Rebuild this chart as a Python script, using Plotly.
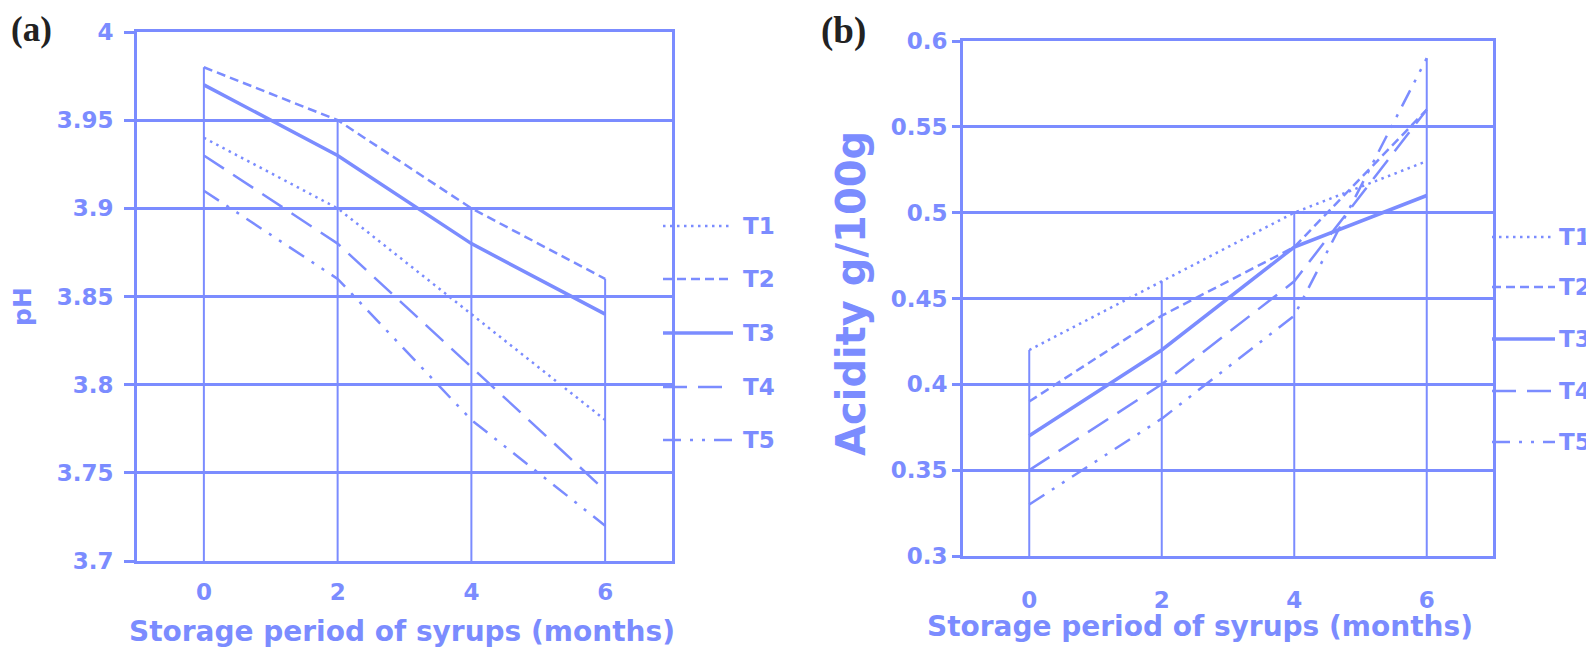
import plotly.graph_objects as go

months = [0, 2, 4, 6]
series_names = ["T1", "T2", "T3", "T4", "T5"]

ph_T1 = [3.94, 3.90, 3.84, 3.78]
ph_T2 = [3.98, 3.95, 3.90, 3.86]
ph_T3 = [3.97, 3.93, 3.88, 3.84]
ph_T4 = [3.93, 3.88, 3.81, 3.74]
ph_T5 = [3.91, 3.86, 3.78, 3.72]

acid_T1 = [0.42, 0.46, 0.50, 0.53]
acid_T2 = [0.39, 0.44, 0.48, 0.56]
acid_T3 = [0.37, 0.42, 0.48, 0.51]
acid_T4 = [0.35, 0.40, 0.46, 0.56]
acid_T5 = [0.33, 0.38, 0.44, 0.59]

ph_ticks = [3.7, 3.75, 3.8, 3.85, 3.9, 3.95, 4.0]
ph_ticktext = ["3.7", "3.75", "3.8", "3.85", "3.9", "3.95", "4"]
acid_ticks = [0.3, 0.35, 0.4, 0.45, 0.5, 0.55, 0.6]
acid_ticktext = ["0.3", "0.35", "0.4", "0.45", "0.5", "0.55", "0.6"]
x_ticks = [0, 2, 4, 6]

BLUE = "#7b8cff"
FONT = "DejaVu Sans"
OFF = 8                      # page body margin
W, H = 1594 - OFF, 649 - OFF

styles = {
    "T1": dict(dash="2.5px,4.5px", width=2.5),
    "T2": dict(dash="9px,5px", width=2.5),
    "T3": dict(dash="solid", width=3.5),
    "T4": dict(dash="24px,11px", width=2.5),
    "T5": dict(dash="18px,9px,3px,9px,3px,9px", width=2.5),
}

fig = go.Figure()

def add_panel(data, xa, ya, ymin):
    # drop lines from axis floor to the series maximum at each month
    dx, dy = [], []
    for i, m in enumerate(months):
        top = max(s[i] for s in data)
        dx += [m, m, None]
        dy += [ymin, top, None]
    fig.add_trace(go.Scatter(x=dx, y=dy, mode="lines", xaxis=xa, yaxis=ya,
                             line=dict(color=BLUE, width=2), showlegend=False,
                             hoverinfo="skip"))
    for name, vals in zip(series_names, data):
        st = styles[name]
        fig.add_trace(go.Scatter(x=months, y=vals, mode="lines", name=name,
                                 xaxis=xa, yaxis=ya, showlegend=False,
                                 line=dict(color=BLUE, width=st["width"], dash=st["dash"])))

add_panel([ph_T1, ph_T2, ph_T3, ph_T4, ph_T5], "x", "y", 3.7)
add_panel([acid_T1, acid_T2, acid_T3, acid_T4, acid_T5], "x2", "y2", 0.3)

def px_x(p):
    return (p - OFF) / W

def px_y(p):
    return 1 - (p - OFF) / H

tickfont = dict(family=FONT, size=23, color=BLUE, weight="bold")

axis_common = dict(showline=True, linecolor=BLUE, linewidth=3, mirror=True,
                   tickfont=tickfont, zeroline=False)

fig.update_layout(
    width=W, height=H,
    margin=dict(l=0, r=0, t=0, b=0, autoexpand=False),
    paper_bgcolor="white", plot_bgcolor="white",
    showlegend=False,
    xaxis=dict(domain=[px_x(137), px_x(672)], range=[-1, 7], tickvals=x_ticks,
               showgrid=False, ticks="", ticklabelstandoff=8, anchor="y",
               **axis_common),
    yaxis=dict(domain=[px_y(561), px_y(32)], range=[3.7, 4.0], tickvals=ph_ticks,
               ticktext=ph_ticktext, showgrid=True, gridcolor=BLUE, gridwidth=2.5,
               ticks="outside", ticklen=10, tickwidth=2.5, tickcolor=BLUE,
               ticklabelstandoff=6, anchor="x", **axis_common),
    xaxis2=dict(domain=[px_x(963), px_x(1493)], range=[-1, 7], tickvals=x_ticks,
                showgrid=False, ticks="", ticklabelstandoff=21, anchor="y2",
                **axis_common),
    yaxis2=dict(domain=[px_y(556), px_y(41)], range=[0.3, 0.6], tickvals=acid_ticks,
                ticktext=acid_ticktext, showgrid=True, gridcolor=BLUE, gridwidth=2.5,
                ticks="outside", ticklen=8, tickwidth=2.5, tickcolor=BLUE,
                ticklabelstandoff=0, anchor="x2", **axis_common),
)

# legends (manual, to reproduce the long line samples)
leg_a_y = [226, 279, 333, 387, 440]
leg_b_y = [237, 287, 339, 391, 442]
for name, ya_, yb_ in zip(series_names, leg_a_y, leg_b_y):
    st = styles[name]
    for (x0, x1, tx, yy) in [(663, 733, 776, ya_), (1492, 1555, 1592, yb_)]:
        fig.add_shape(type="line", xref="paper", yref="paper",
                      x0=px_x(x0), x1=px_x(x1), y0=px_y(yy), y1=px_y(yy),
                      line=dict(color=BLUE, width=st["width"], dash=st["dash"]))
        fig.add_annotation(xref="paper", yref="paper", x=px_x(tx), y=px_y(yy),
                           text=name, showarrow=False, xanchor="right", yanchor="middle",
                           borderpad=0,
                           font=dict(family=FONT, size=23, color=BLUE, weight="bold"))

# axis titles
fig.add_annotation(xref="paper", yref="paper", x=px_x(402), y=px_y(631),
                   text="Storage period of syrups (months)", showarrow=False,
                   xanchor="center", yanchor="middle",
                   font=dict(family=FONT, size=28, color=BLUE, weight="bold"))
fig.add_annotation(xref="paper", yref="paper", x=px_x(1200), y=px_y(626),
                   text="Storage period of syrups (months)", showarrow=False,
                   xanchor="center", yanchor="middle",
                   font=dict(family=FONT, size=28, color=BLUE, weight="bold"))
fig.add_annotation(xref="paper", yref="paper", x=px_x(22), y=px_y(307),
                   text="pH", showarrow=False, textangle=-90,
                   xanchor="center", yanchor="middle",
                   font=dict(family=FONT, size=25, color=BLUE, weight="bold"))
fig.add_annotation(xref="paper", yref="paper", x=px_x(851), y=px_y(294),
                   text="Acidity g/100g", showarrow=False, textangle=-90,
                   xanchor="center", yanchor="middle",
                   font=dict(family=FONT, size=40, color=BLUE, weight="bold"))

# panel letters
fig.add_annotation(xref="paper", yref="paper", x=px_x(10), y=px_y(29),
                   text="(a)", showarrow=False, xanchor="left", yanchor="middle",
                   borderpad=0,
                   font=dict(family="Liberation Serif", size=35, color="#222222", weight="bold"))
fig.add_annotation(xref="paper", yref="paper", x=px_x(820), y=px_y(31),
                   text="(b)", showarrow=False, xanchor="left", yanchor="middle",
                   borderpad=0,
                   font=dict(family="Liberation Serif", size=37, color="#222222", weight="bold"))

fig.write_html("out.html")
